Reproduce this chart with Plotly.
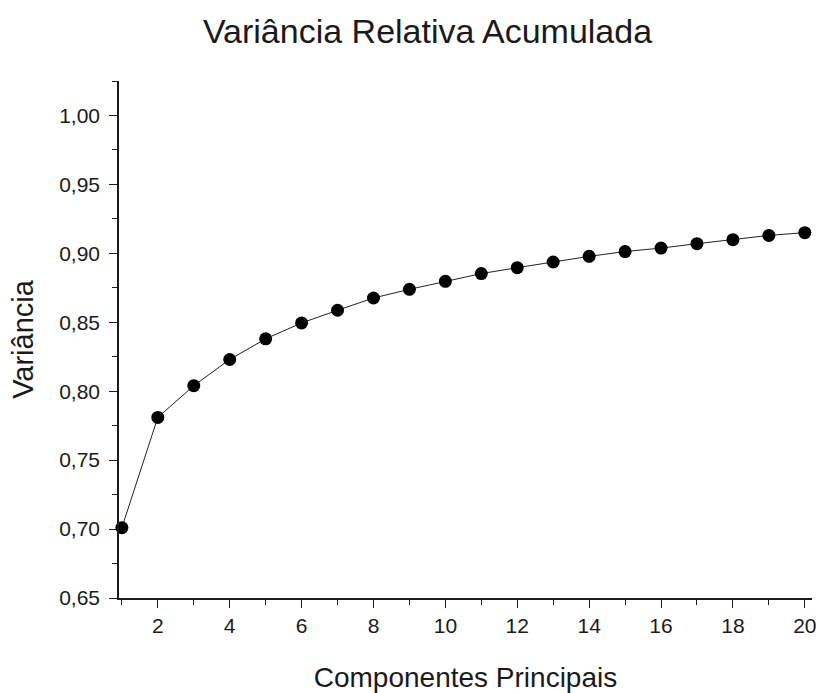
import plotly.graph_objects as go

# Cumulative relative variance explained by each principal component
componentes = list(range(1, 21))
variancia = [0.701, 0.781, 0.804, 0.823, 0.838, 0.8495, 0.8587, 0.8676, 0.8739, 0.8797,
             0.8853, 0.8896, 0.8937, 0.8978, 0.9013, 0.9038, 0.907, 0.9099, 0.913, 0.915]

font_family = "Liberation Sans, Arial, sans-serif"
ink = "#1a1a1a"

fig = go.Figure()
fig.add_trace(go.Scatter(
    x=componentes,
    y=variancia,
    mode="lines+markers",
    line=dict(color="#222222", width=1),
    marker=dict(color="black", size=13, symbol="circle"),
    showlegend=False,
    cliponaxis=False,
))

axis_common = dict(
    showline=True,
    linecolor=ink,
    linewidth=1.5,
    showgrid=False,
    zeroline=False,
    automargin=False,
    ticks="outside",
    ticklen=8,
    tickwidth=1.2,
    tickcolor=ink,
    tickfont=dict(family=font_family, size=21, color=ink),
    mirror=False,
)

fig.update_layout(
    width=819,
    height=693,
    paper_bgcolor="white",
    plot_bgcolor="white",
    separators=",.",
    margin=dict(l=119, r=7, t=81, b=95),
    title=dict(
        text="Variância Relativa Acumulada",
        x=427.5 / 819,
        xanchor="center",
        y=1 - 31 / 693,
        yanchor="middle",
        font=dict(family=font_family, size=34, color=ink),
    ),
    xaxis=dict(
        **axis_common,
        range=[0.92, 20.2],
        tick0=0,
        dtick=2,
        minor=dict(dtick=1, tick0=1, ticks="outside", ticklen=5, tickcolor=ink, tickwidth=1.2),
        title=dict(text="Componentes Principais", standoff=33,
                   font=dict(family=font_family, size=28, color=ink)),
    ),
    yaxis=dict(
        **axis_common,
        range=[0.65, 1.025],
        tick0=0.65,
        dtick=0.05,
        tickformat=".2f",
        ticklabelstandoff=5,
        minor=dict(dtick=0.025, tick0=0.65, ticks="outside", ticklen=5, tickcolor=ink, tickwidth=1.2),
        title=dict(text="Variância", standoff=17,
                   font=dict(family=font_family, size=29, color=ink)),
    ),
)

fig.write_html("out.html")
